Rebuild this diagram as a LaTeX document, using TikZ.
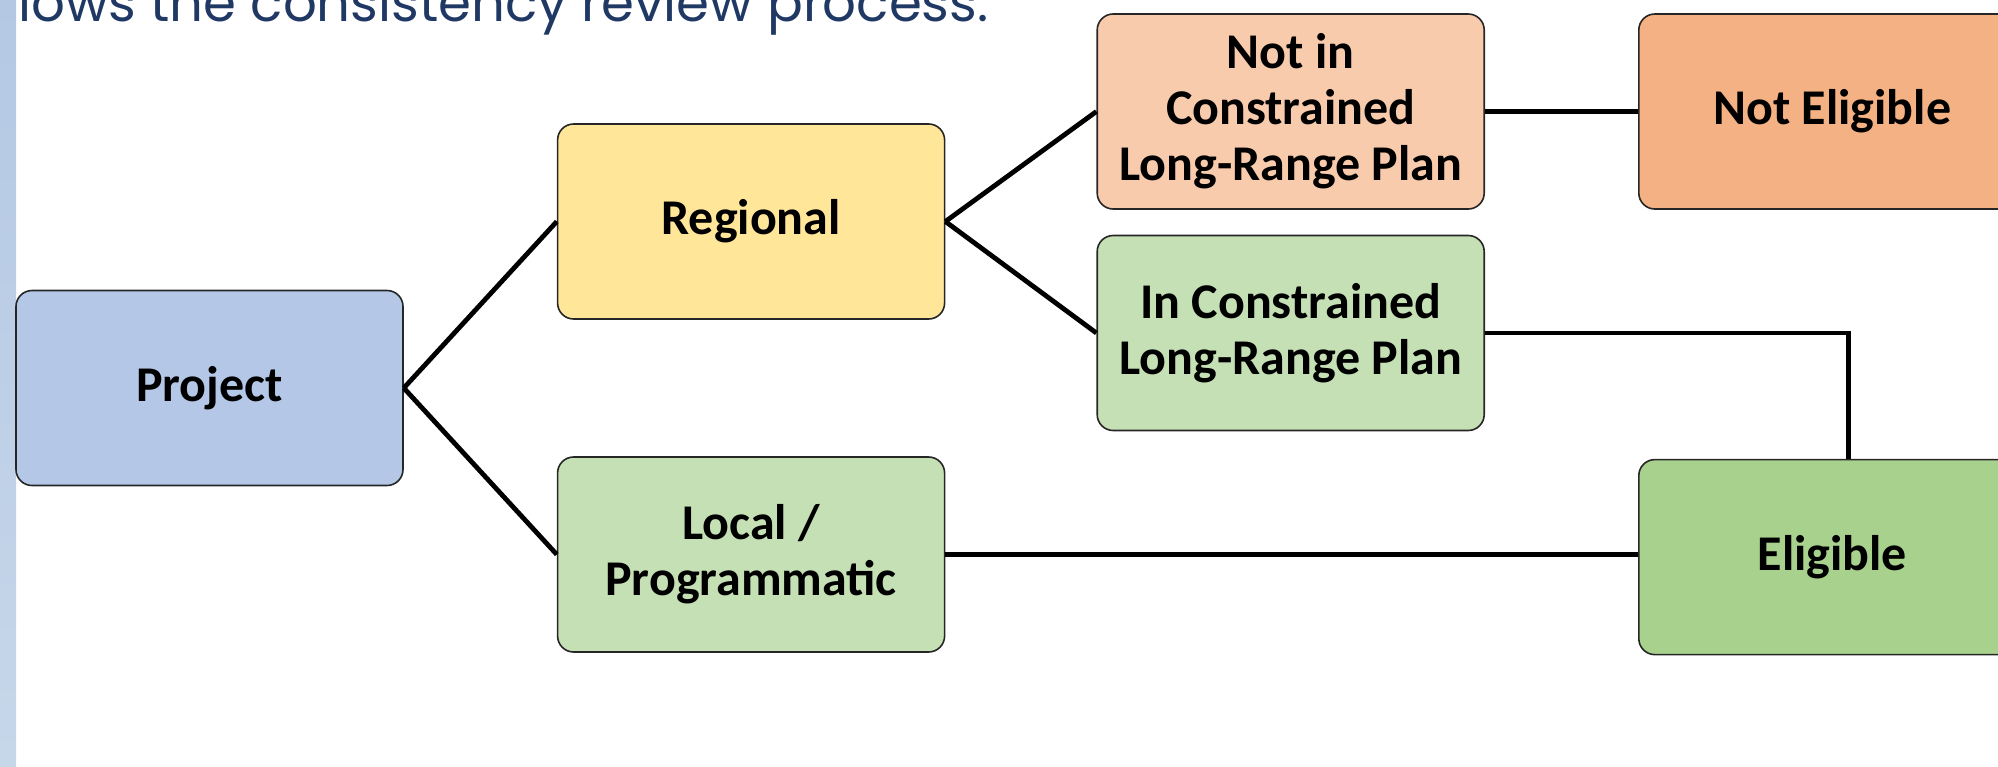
\documentclass[tikz,border=0pt]{standalone}
\usepackage{fontspec}
\setmainfont{Carlito}
\newfontfamily\introfont{Poppins}
\usetikzlibrary{positioning}
\definecolor{barblue}{HTML}{B4C8E4}
\definecolor{barpale}{HTML}{C7D7EA}
\definecolor{introblue}{HTML}{1F3864}
\definecolor{projblue}{HTML}{B4C7E7}
\definecolor{regyellow}{HTML}{FFE699}
\definecolor{okgreen}{HTML}{C5E0B4}
\definecolor{nopeach}{HTML}{F8CBAD}
\definecolor{rejorange}{HTML}{F4B183}
\definecolor{accgreen}{HTML}{A9D18E}
\tikzstyle{startbox} = [
  rectangle, rounded corners=8pt, minimum width=193.5pt, minimum height=97.5pt,
  text centered, align=center, draw=black!85, line width=0.8pt, fill=projblue
]
\tikzstyle{regionbox} = [
  rectangle, rounded corners=8pt, minimum width=193.5pt, minimum height=97.5pt,
  text centered, align=center, draw=black!85, line width=0.8pt, fill=regyellow
]
\tikzstyle{okbox} = [
  rectangle, rounded corners=8pt, minimum width=193.5pt, minimum height=97.5pt,
  text centered, align=center, draw=black!85, line width=0.8pt, fill=okgreen
]
\tikzstyle{nobox} = [
  rectangle, rounded corners=8pt, minimum width=193.5pt, minimum height=97.5pt,
  text centered, align=center, draw=black!85, line width=0.8pt, fill=nopeach
]
\tikzstyle{rejectbox} = [
  rectangle, rounded corners=8pt, minimum width=193.5pt, minimum height=97.5pt,
  text centered, align=center, draw=black!85, line width=0.8pt, fill=rejorange
]
\tikzstyle{acceptbox} = [
  rectangle, rounded corners=8pt, minimum width=193.5pt, minimum height=97.5pt,
  text centered, align=center, draw=black!85, line width=0.8pt, fill=accgreen
]
\tikzset{
  link/.style={
    line width=2.4pt, black
  }
}

\begin{document}
\begin{tikzpicture}[
  node distance=76.5pt,
  font=\fontsize{25}{28}\selectfont\bfseries
]

\useasboundingbox (0,0) rectangle (999pt,-383pt);

% ------------------------------------------------
% Margen y texto de arriba
% ------------------------------------------------

\shade[top color=barblue, bottom color=barpale] (0,0) rectangle (8pt,-383pt);

\node[anchor=base west, inner sep=0pt, text=introblue,
  font=\introfont\fontsize{26.5}{30}\selectfont] (intro) at (9pt,-10.5pt)
  {lows the consistency review process.};

% ------------------------------------------------
% Cajas
% ------------------------------------------------

\node[startbox] (project) at (104.75pt,-194pt) {Project};

\node[regionbox, right=of project, yshift=83.25pt] (regional) {Regional};

\node[okbox, right=of project, yshift=-83.25pt] (local) {%
  Local /\\
  Programmatic
};

\node[nobox, right=75.5pt of regional, yshift=55pt] (notin) {%
  Not in\\
  Constrained\\
  Long-Range Plan
};

\node[okbox, right=75.5pt of regional, yshift=-55.75pt] (inplan) {%
  In Constrained\\
  Long-Range Plan
};

\node[rejectbox, right=of notin] (noteligible) {Not Eligible};

\node[acceptbox, below=124.5pt of noteligible] (eligible) {Eligible};

% ------------------------------------------------
% Lineas
% ------------------------------------------------

\draw[link] (project.east) -- (regional.west);
\draw[link] (project.east) -- (local.west);

\draw[link] (regional.east) -- (notin.west);
\draw[link] (regional.east) -- (inplan.west);

\draw[link] (notin) -- (noteligible);
\draw[link] (local.east) -- (local.east -| eligible.west);
\draw[link] (inplan.east) -| ([xshift=8pt]eligible.north);

\end{tikzpicture}
\end{document}
